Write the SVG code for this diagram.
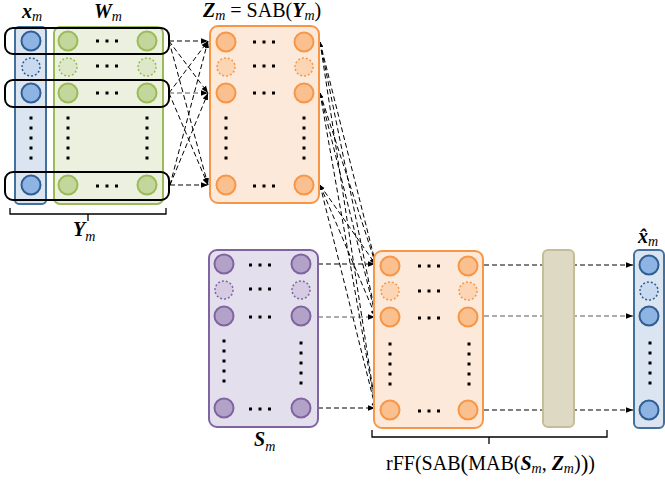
<svg xmlns="http://www.w3.org/2000/svg" width="665" height="483" viewBox="0 0 665 483">
<style>
.bl{fill:#dbe5f1;stroke:#41719c;stroke-width:2}
.blc{fill:#8eb4e3;stroke:#2e5e93;stroke-width:2}
.bld{fill:#c9d9ef;stroke:#2e5e93;stroke-width:1.5;stroke-dasharray:2 2}
.gr{fill:#ebf1de;stroke:#9bbb59;stroke-width:2}
.grc{fill:#c3d69b;stroke:#9bbb59;stroke-width:2}
.grd{fill:#dce8c8;stroke:#9bbb59;stroke-width:1.5;stroke-dasharray:2 2}
.or{fill:#fde9d9;stroke:#f79646;stroke-width:2}
.orc{fill:#fac090;stroke:#f79646;stroke-width:2}
.ord{fill:#fcd5b4;stroke:#f79646;stroke-width:1.5;stroke-dasharray:2 2}
.pu{fill:#e4dfec;stroke:#8064a2;stroke-width:2}
.puc{fill:#b3a2c7;stroke:#8064a2;stroke-width:2}
.pud{fill:#d5cce3;stroke:#8064a2;stroke-width:1.5;stroke-dasharray:2 2}
.be{fill:#ddd9c3;stroke:#c4bd97;stroke-width:2}
.row{fill:none;stroke:#000;stroke-width:2}
.c{fill:none;stroke:#000;stroke-width:1;stroke-dasharray:5 3}
.cg{fill:none;stroke:#595959;stroke-width:1.2;stroke-dasharray:5 3}
.br{fill:none;stroke:#000;stroke-width:1.3}
.t{font-family:"Liberation Serif","DejaVu Serif",serif;font-size:20px;fill:#000}
.v{font-weight:bold;font-style:italic}
.s{font-style:italic;font-size:14px}
</style>
<defs>
<marker id="ah" viewBox="0 0 10 10" refX="10" refY="5" markerWidth="7" markerHeight="7" markerUnits="userSpaceOnUse" orient="auto"><path d="M0,1 L10,5 L0,9 z" fill="#000"/></marker>
<marker id="as" viewBox="0 0 10 10" refX="10" refY="5" markerWidth="5" markerHeight="5" markerUnits="userSpaceOnUse" orient="auto-start-reverse"><path d="M0,1 L10,5 L0,9 z" fill="#000"/></marker>
<g id="hd"><rect x="-11" y="-1.5" width="3" height="3"/><rect x="-1.5" y="-1.5" width="3" height="3"/><rect x="8" y="-1.5" width="3" height="3"/></g>
<g id="vd"><rect x="-1.5" y="-1.5" width="3" height="3"/><rect x="-1.5" y="8.5" width="3" height="3"/><rect x="-1.5" y="18.5" width="3" height="3"/><rect x="-1.5" y="28.5" width="3" height="3"/><rect x="-1.5" y="38.5" width="3" height="3"/></g>
</defs>

<g id="connectors" marker-end="url(#ah)">
<path class="c" d="M169,41 L208,41"/>
<path class="c" d="M169,41 L208,93"/>
<path class="c" d="M169,41 L208,185"/>
<path class="c" d="M169,93 L208,41"/>
<path class="cg" d="M169,93 L208,93"/>
<path class="c" d="M169,93 L208,185"/>
<path class="c" d="M170,185 L208,41"/>
<path class="c" d="M170,185 L208,93"/>
<path class="c" d="M170,185 L208,185"/>
<g marker-start="url(#as)">
<path class="c" d="M320,42 L376,265"/>
<path class="c" d="M320,42 L376,317"/>
<path class="c" d="M320,42 L376,410"/>
<path class="c" d="M320,93 L376,265"/>
<path class="c" d="M320,93 L376,317"/>
<path class="c" d="M320,93 L376,410"/>
<path class="c" d="M320,185 L376,265"/>
<path class="c" d="M320,185 L376,317"/>
<path class="c" d="M320,185 L376,410"/>
</g>
<path class="c" d="M318,264 L375,264"/>
<path class="cg" d="M318,317 L375,317"/>
<path class="c" d="M318,408 L375,408"/>
<path class="c" d="M484,265 L633,265"/>
<path class="cg" d="M484,316 L633,316"/>
<path class="c" d="M484,410 L633,410"/>
</g>

<g id="beige"><rect class="be" x="543" y="250" width="31" height="177" rx="5"/></g>

<g id="x_m">
<rect class="bl" x="15" y="27" width="31" height="177" rx="4"/>
<circle class="blc" cx="31" cy="41" r="9.5"/>
<circle class="bld" cx="31" cy="67" r="9"/>
<circle class="blc" cx="31" cy="93" r="9.5"/>
<circle class="blc" cx="31" cy="185" r="9.5"/>
<use href="#vd" x="31" y="118"/>
<text class="t" x="22" y="18"><tspan class="v">x</tspan><tspan class="s" dy="3">m</tspan></text>
</g>

<g id="W_m">
<rect class="gr" x="54" y="27" width="109" height="177" rx="6"/>
<circle class="grc" cx="68" cy="41" r="9.5"/>
<circle class="grd" cx="68" cy="67" r="9"/>
<circle class="grc" cx="68" cy="93" r="9.5"/>
<circle class="grc" cx="68" cy="185" r="9.5"/>
<circle class="grc" cx="147" cy="41" r="9.5"/>
<circle class="grd" cx="147" cy="67" r="9"/>
<circle class="grc" cx="147" cy="93" r="9.5"/>
<circle class="grc" cx="147" cy="185" r="9.5"/>
<use href="#hd" x="107" y="41"/>
<use href="#hd" x="107" y="66"/>
<use href="#hd" x="107" y="93"/>
<use href="#hd" x="107" y="186"/>
<use href="#vd" x="68" y="118"/>
<use href="#vd" x="147" y="118"/>
<text class="t" x="94" y="18"><tspan class="v">W</tspan><tspan class="s" dy="3">m</tspan></text>
</g>

<g id="Y_m">
<rect class="row" x="5" y="28" width="164" height="26" rx="8"/>
<rect class="row" x="5" y="80" width="164" height="27" rx="8"/>
<rect class="row" x="5" y="172" width="164" height="28" rx="8"/>
<path class="br" d="M10,208 L10,214 L166,214 L166,208 M88,214 L88,221"/>
<text class="t" x="73" y="236"><tspan class="v">Y</tspan><tspan class="s" dy="5">m</tspan></text>
</g>

<g id="Z_m">
<rect class="or" x="210" y="26" width="109" height="177" rx="8"/>
<circle class="orc" cx="226" cy="42" r="9.5"/>
<circle class="ord" cx="226" cy="67" r="9"/>
<circle class="orc" cx="226" cy="93" r="9.5"/>
<circle class="orc" cx="226" cy="185" r="9.5"/>
<circle class="orc" cx="304" cy="42" r="9.5"/>
<circle class="ord" cx="304" cy="67" r="9"/>
<circle class="orc" cx="304" cy="93" r="9.5"/>
<circle class="orc" cx="304" cy="185" r="9.5"/>
<use href="#hd" x="264" y="42"/>
<use href="#hd" x="264" y="66"/>
<use href="#hd" x="264" y="93"/>
<use href="#hd" x="264" y="186"/>
<use href="#vd" x="226" y="118"/>
<use href="#vd" x="304" y="118"/>
<text class="t" x="203" y="17" font-size="21"><tspan class="v">Z</tspan><tspan class="s" dy="3">m</tspan><tspan dy="-3"> = SAB(</tspan><tspan class="v">Y</tspan><tspan class="s" dy="3">m</tspan><tspan dy="-3">)</tspan></text>
</g>

<g id="S_m">
<rect class="pu" x="209" y="250" width="109" height="177" rx="8"/>
<circle class="puc" cx="224" cy="264" r="9.5"/>
<circle class="pud" cx="224" cy="290" r="9"/>
<circle class="puc" cx="224" cy="316" r="9.5"/>
<circle class="puc" cx="224" cy="408" r="9.5"/>
<circle class="puc" cx="301" cy="264" r="9.5"/>
<circle class="pud" cx="301" cy="290" r="9"/>
<circle class="puc" cx="301" cy="316" r="9.5"/>
<circle class="puc" cx="301" cy="408" r="9.5"/>
<use href="#hd" x="260" y="265"/>
<use href="#hd" x="260" y="289"/>
<use href="#hd" x="260" y="317"/>
<use href="#hd" x="260" y="409"/>
<use href="#vd" x="224" y="341"/>
<use href="#vd" x="301" y="343"/>
<text class="t" x="254" y="446"><tspan class="v">S</tspan><tspan class="s" dy="5">m</tspan></text>
</g>

<g id="output">
<rect class="or" x="374" y="251" width="109" height="177" rx="8"/>
<circle class="orc" cx="390" cy="266" r="9.5"/>
<circle class="ord" cx="390" cy="291" r="9"/>
<circle class="orc" cx="390" cy="317" r="9.5"/>
<circle class="orc" cx="390" cy="410" r="9.5"/>
<circle class="orc" cx="468" cy="266" r="9.5"/>
<circle class="ord" cx="468" cy="291" r="9"/>
<circle class="orc" cx="468" cy="317" r="9.5"/>
<circle class="orc" cx="468" cy="410" r="9.5"/>
<use href="#hd" x="429" y="266"/>
<use href="#hd" x="429" y="291"/>
<use href="#hd" x="429" y="318"/>
<use href="#hd" x="429" y="411"/>
<use href="#vd" x="390" y="344"/>
<use href="#vd" x="469" y="344"/>
<path class="br" d="M372,430 L372,437 L607,437 L607,430 M489,437 L489,444"/>
<text class="t" x="386" y="470" font-size="19"><tspan>rFF(SAB</tspan><tspan font-size="23" dy="1">(</tspan><tspan dy="-1">MAB(</tspan><tspan class="v">S</tspan><tspan class="s" dy="3">m</tspan><tspan dy="-3">, </tspan><tspan class="v">Z</tspan><tspan class="s" dy="3">m</tspan><tspan dy="-3">)</tspan><tspan font-size="23" dy="1">)</tspan><tspan dy="-1">)</tspan></text>
</g>

<g id="xhat_m">
<rect class="bl" x="634" y="250" width="30" height="178" rx="5"/>
<circle class="blc" cx="649" cy="265" r="9.5"/>
<circle class="bld" cx="649" cy="291" r="9"/>
<circle class="blc" cx="649" cy="316" r="9.5"/>
<circle class="blc" cx="649" cy="410" r="9.5"/>
<use href="#vd" x="650" y="343"/>
<text class="t" x="638" y="243"><tspan class="v">x̂</tspan><tspan class="s" dy="3">m</tspan></text>
</g>
</svg>
